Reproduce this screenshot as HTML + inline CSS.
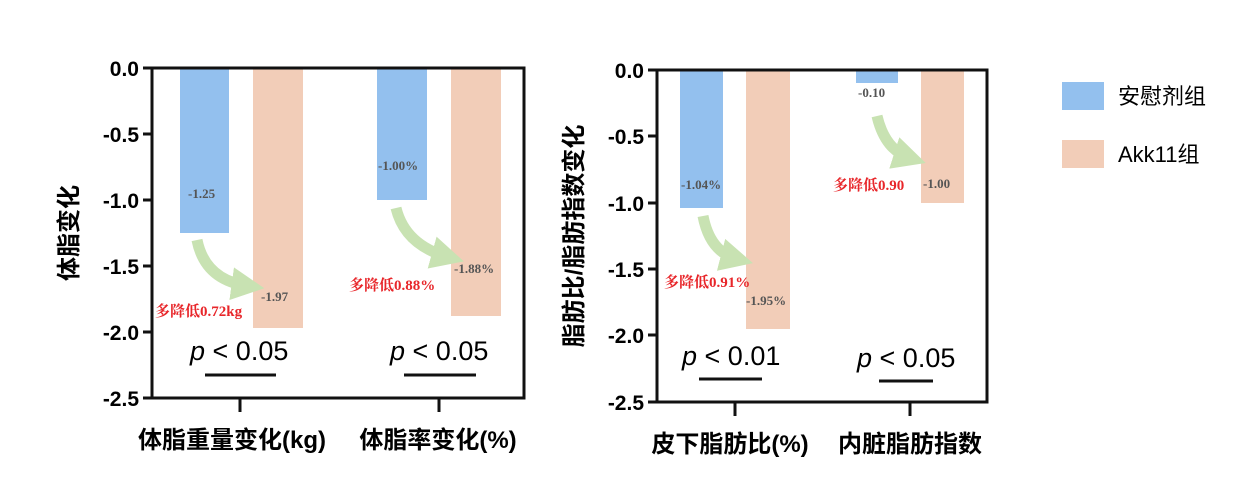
<!DOCTYPE html>
<html><head><meta charset="utf-8"><style>
body{margin:0;background:#fff}
svg text{font-family:"Liberation Sans","Noto Sans CJK SC",sans-serif}
.t{font-size:21px;font-weight:bold;text-anchor:end}
.v{font-family:"Liberation Serif",serif!important;font-size:13px;fill:#555;font-weight:bold}
.r{font-family:"Liberation Serif","Noto Serif CJK SC",serif!important;font-size:15px;fill:#e8262a;font-weight:bold}
.p{font-size:27px}
.x{font-size:24px;font-weight:bold;text-anchor:middle}
</style></head><body>
<svg width="1260" height="498" xmlns="http://www.w3.org/2000/svg">
<defs>
<marker id="ah" viewBox="0 0 10 10" refX="5" refY="5" markerWidth="3" markerHeight="3" orient="auto"><path d="M0,0L10,5L0,10z" fill="#c8e2b2"/></marker>
</defs>
<g>
<rect x="180" y="68" width="49" height="165" fill="#93c0ee"/>
<rect x="253" y="68" width="50" height="260" fill="#f2cdb8"/>
<rect x="377" y="68" width="50" height="132" fill="#93c0ee"/>
<rect x="451" y="68" width="50" height="248" fill="#f2cdb8"/>
<path d="M152,68V398H524V68Z" fill="none" stroke="#111" stroke-width="3"/>
<g stroke="#111" stroke-width="3">
<line x1="143" y1="68" x2="152" y2="68"/><line x1="143" y1="134" x2="152" y2="134"/><line x1="143" y1="200" x2="152" y2="200"/><line x1="143" y1="266" x2="152" y2="266"/><line x1="143" y1="332" x2="152" y2="332"/><line x1="143" y1="398" x2="152" y2="398"/>
<line x1="240" y1="398" x2="240" y2="412"/><line x1="439" y1="398" x2="439" y2="412"/>
<line x1="205" y1="375" x2="276" y2="375"/><line x1="404" y1="375" x2="476" y2="375"/>
</g>
<text class="t" x="139" y="76">0.0</text><text class="t" x="139" y="142">-0.5</text><text class="t" x="139" y="208">-1.0</text><text class="t" x="139" y="274">-1.5</text><text class="t" x="139" y="340">-2.0</text><text class="t" x="139" y="406">-2.5</text>
<text x="77" y="233" transform="rotate(-90 77 233)" style="font-size:24px;font-weight:bold;text-anchor:middle">体脂变化</text>
<path d="M197,240 Q205,280 248,286" fill="none" stroke="#c8e2b2" stroke-width="11" marker-end="url(#ah)"/>
<path d="M396,208 Q405,245 448,257" fill="none" stroke="#c8e2b2" stroke-width="11" marker-end="url(#ah)"/>
<text class="v" x="188" y="198">-1.25</text>
<text class="v" x="261" y="301">-1.97</text>
<text class="v" x="378" y="170">-1.00%</text>
<text class="v" x="454" y="273">-1.88%</text>
<text class="r" x="155" y="316">多降低0.72kg</text>
<text class="r" x="349" y="290">多降低0.88%</text>
<text class="p" x="190" y="360"><tspan font-style="italic">p</tspan> &lt; 0.05</text>
<text class="p" x="390" y="360"><tspan font-style="italic">p</tspan> &lt; 0.05</text>
<text class="x" x="232" y="448">体脂重量变化(kg)</text>
<text class="x" x="438" y="448">体脂率变化(%)</text>
</g>
<g>
<rect x="680" y="70" width="43" height="138" fill="#93c0ee"/>
<rect x="746" y="70" width="44" height="259" fill="#f2cdb8"/>
<rect x="856" y="70" width="42" height="13" fill="#93c0ee"/>
<rect x="921" y="70" width="43" height="133" fill="#f2cdb8"/>
<path d="M657,70V402H987V70Z" fill="none" stroke="#111" stroke-width="3"/>
<g stroke="#111" stroke-width="3">
<line x1="648" y1="70" x2="657" y2="70"/><line x1="648" y1="136" x2="657" y2="136"/><line x1="648" y1="203" x2="657" y2="203"/><line x1="648" y1="269" x2="657" y2="269"/><line x1="648" y1="335" x2="657" y2="335"/><line x1="648" y1="402" x2="657" y2="402"/>
<line x1="735" y1="402" x2="735" y2="416"/><line x1="910" y1="402" x2="910" y2="416"/>
<line x1="699" y1="379" x2="762" y2="379"/><line x1="879" y1="381" x2="933" y2="381"/>
</g>
<text class="t" x="644" y="78">0.0</text><text class="t" x="644" y="144">-0.5</text><text class="t" x="644" y="211">-1.0</text><text class="t" x="644" y="277">-1.5</text><text class="t" x="644" y="343">-2.0</text><text class="t" x="644" y="410">-2.5</text>
<text x="582" y="236" transform="rotate(-90 582 236)" style="font-size:24px;font-weight:bold;text-anchor:middle">脂肪比/脂肪指数变化</text>
<path d="M703,216 Q710,252 737,259" fill="none" stroke="#c8e2b2" stroke-width="11" marker-end="url(#ah)"/>
<path d="M877,116 Q885,150 910,158" fill="none" stroke="#c8e2b2" stroke-width="11" marker-end="url(#ah)"/>
<text class="v" x="681" y="189">-1.04%</text>
<text class="v" x="746" y="305">-1.95%</text>
<text class="v" x="858" y="97">-0.10</text>
<text class="v" x="923" y="188">-1.00</text>
<text class="r" x="664" y="287">多降低0.91%</text>
<text class="r" x="833" y="190">多降低0.90</text>
<text class="p" x="682" y="365"><tspan font-style="italic">p</tspan> &lt; 0.01</text>
<text class="p" x="857" y="367"><tspan font-style="italic">p</tspan> &lt; 0.05</text>
<text class="x" x="730" y="452">皮下脂肪比(%)</text>
<text class="x" x="910" y="452">内脏脂肪指数</text>
</g>
<rect x="1062" y="82" width="42" height="28" fill="#93c0ee"/>
<rect x="1062" y="140" width="42" height="28" fill="#f2cdb8"/>
<text x="1118" y="104" style="font-size:22px">安慰剂组</text>
<text x="1118" y="162" style="font-size:22px">Akk11组</text>
</svg>
</body></html>
